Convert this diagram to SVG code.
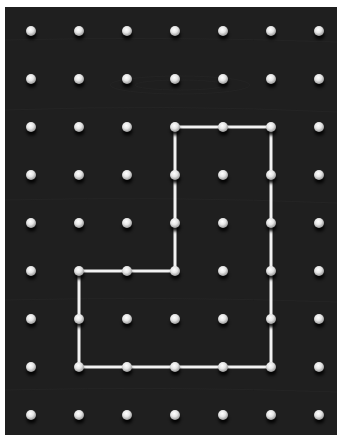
<svg xmlns="http://www.w3.org/2000/svg" xmlns:xlink="http://www.w3.org/1999/xlink" width="337" height="435" viewBox="0 0 337 435">
  <defs>
    <radialGradient id="pegGrad" cx="0.42" cy="0.35" r="0.65">
      <stop offset="0" stop-color="#ffffff"/>
      <stop offset="0.5" stop-color="#e6e6e6"/>
      <stop offset="1" stop-color="#9a9a9a"/>
    </radialGradient>
    <filter id="blur" x="-1" y="-1" width="3" height="3">
      <feGaussianBlur stdDeviation="1.5"/>
    </filter>
    <g id="peg">
      <ellipse cx="0.5" cy="4" rx="5" ry="4.5" fill="#050505" opacity="0.85" filter="url(#blur)"/>
      <circle cx="0" cy="0" r="5" fill="url(#pegGrad)"/>
    </g>
  </defs>
  <style>
    .band { fill: none; stroke: #f2f2f2; stroke-width: 3; stroke-linejoin: miter; }
  </style>
  <rect x="0" y="0" width="337" height="435" fill="#ffffff"/>
  <rect x="5" y="7" width="332" height="428" fill="#1f1f1f"/>
  <g id="grain" fill="none" stroke="#262626" stroke-width="1" opacity="0.8">
    <path d="M5 40 Q170 36 337 42"/>
    <path d="M5 110 Q170 104 337 112"/>
    <ellipse cx="180" cy="85" rx="70" ry="9" stroke="#252525"/>
    <ellipse cx="180" cy="85" rx="45" ry="5" stroke="#252525"/>
    <path d="M5 200 Q170 196 337 203"/>
    <path d="M5 300 Q170 296 337 302"/>
    <path d="M5 390 Q170 386 337 392"/>
  </g>
  <g id="connectors">
    <polygon class="band" points="175,127 271,127 271,367 79,367 79,271 175,271"/>
  </g>
  <g id="pegs">
    <use xlink:href="#peg" x="31" y="31"/><use xlink:href="#peg" x="79" y="31"/><use xlink:href="#peg" x="127" y="31"/><use xlink:href="#peg" x="175" y="31"/><use xlink:href="#peg" x="223" y="31"/><use xlink:href="#peg" x="271" y="31"/><use xlink:href="#peg" x="319" y="31"/>
    <use xlink:href="#peg" x="31" y="79"/><use xlink:href="#peg" x="79" y="79"/><use xlink:href="#peg" x="127" y="79"/><use xlink:href="#peg" x="175" y="79"/><use xlink:href="#peg" x="223" y="79"/><use xlink:href="#peg" x="271" y="79"/><use xlink:href="#peg" x="319" y="79"/>
    <use xlink:href="#peg" x="31" y="127"/><use xlink:href="#peg" x="79" y="127"/><use xlink:href="#peg" x="127" y="127"/><use xlink:href="#peg" x="175" y="127"/><use xlink:href="#peg" x="223" y="127"/><use xlink:href="#peg" x="271" y="127"/><use xlink:href="#peg" x="319" y="127"/>
    <use xlink:href="#peg" x="31" y="175"/><use xlink:href="#peg" x="79" y="175"/><use xlink:href="#peg" x="127" y="175"/><use xlink:href="#peg" x="175" y="175"/><use xlink:href="#peg" x="223" y="175"/><use xlink:href="#peg" x="271" y="175"/><use xlink:href="#peg" x="319" y="175"/>
    <use xlink:href="#peg" x="31" y="223"/><use xlink:href="#peg" x="79" y="223"/><use xlink:href="#peg" x="127" y="223"/><use xlink:href="#peg" x="175" y="223"/><use xlink:href="#peg" x="223" y="223"/><use xlink:href="#peg" x="271" y="223"/><use xlink:href="#peg" x="319" y="223"/>
    <use xlink:href="#peg" x="31" y="271"/><use xlink:href="#peg" x="79" y="271"/><use xlink:href="#peg" x="127" y="271"/><use xlink:href="#peg" x="175" y="271"/><use xlink:href="#peg" x="223" y="271"/><use xlink:href="#peg" x="271" y="271"/><use xlink:href="#peg" x="319" y="271"/>
    <use xlink:href="#peg" x="31" y="319"/><use xlink:href="#peg" x="79" y="319"/><use xlink:href="#peg" x="127" y="319"/><use xlink:href="#peg" x="175" y="319"/><use xlink:href="#peg" x="223" y="319"/><use xlink:href="#peg" x="271" y="319"/><use xlink:href="#peg" x="319" y="319"/>
    <use xlink:href="#peg" x="31" y="367"/><use xlink:href="#peg" x="79" y="367"/><use xlink:href="#peg" x="127" y="367"/><use xlink:href="#peg" x="175" y="367"/><use xlink:href="#peg" x="223" y="367"/><use xlink:href="#peg" x="271" y="367"/><use xlink:href="#peg" x="319" y="367"/>
    <use xlink:href="#peg" x="31" y="415"/><use xlink:href="#peg" x="79" y="415"/><use xlink:href="#peg" x="127" y="415"/><use xlink:href="#peg" x="175" y="415"/><use xlink:href="#peg" x="223" y="415"/><use xlink:href="#peg" x="271" y="415"/><use xlink:href="#peg" x="319" y="415"/>
  </g>
</svg>
